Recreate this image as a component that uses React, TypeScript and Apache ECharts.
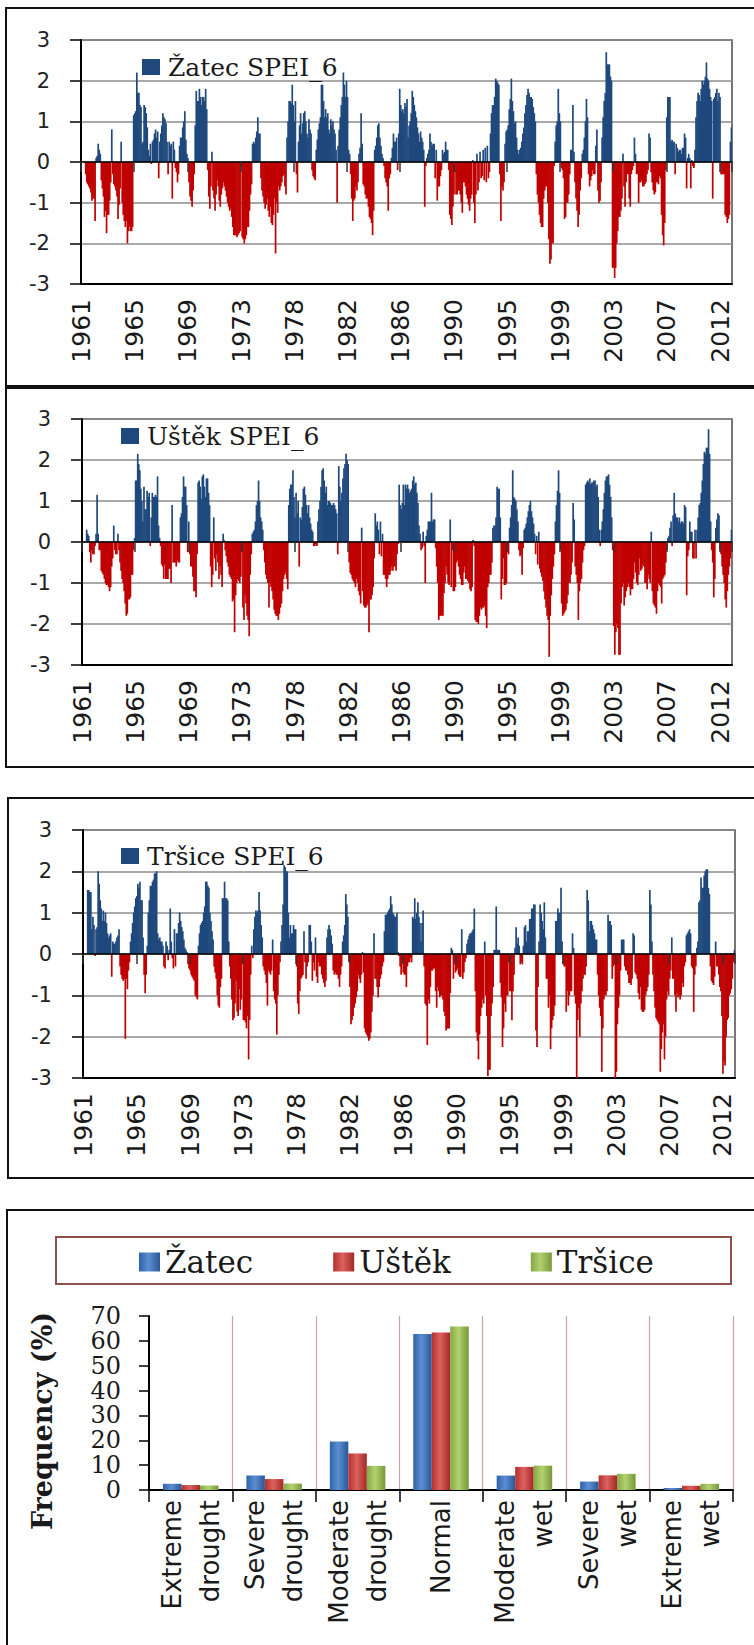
import React, { useEffect, useRef } from "react";
import * as echarts from "echarts";

const FIRST_YEAR = 1961;
const LAST_YEAR = 2012;
const LABEL_STEP = 51; // months between two year labels on the time axis

// Monthly SPEI-6 values, one row per year (Jan..Dec)
const zatecSpei6 = [
  null, null, null, null, -0.3, -0.5, -0.55, -0.6, -0.65, -0.75, -0.95, -0.9,
  -0.9, -1.45, 0.1, 0.15, 0.45, 0.3, 0.2, -0.45, -0.65, -0.85, -1.35, -1.2,
  -1.75, -1.3, -1.3, -0.95, -0.5, 0.8, -0.3, -0.55, -0.6, -0.7, -0.85, -1.4,
  -1.05, -0.65, 0.5, -1.0, -1.3, -1.45, -1.6, -1.45, -2.0, -1.7, -1.6, -1.7,
  -1.7, -1.6, 1.15, 1.2, 1.25, 2.2, 1.7, 1.7, 1.4, 1.35, 0.45, 0.5,
  1.4, 1.35, 1.2, 0.85, 0.3, 0.15, 0.45, -0.05, 0.5, 0.55, 0.7, 0.8,
  0.6, 0.75, -0.4, 0.5, 0.7, 0.9, 1.2, 1.1, 1.05, 0.95, 0.5, -0.3,
  0.5, 0.4, 0.45, -0.9, 0.5, 0.3, -0.15, -0.25, -0.5, -0.3, 0.4, 0.6,
  0.6, 0.85, 1.0, 1.25, 0.55, 0.2, 0.1, -0.5, -0.85, -0.95, -1.1, -0.7,
  -0.3, 0.9, 1.75, 1.5, 1.5, 1.8, 1.6, 1.4, 1.6, 1.6, 1.5, 1.8,
  1.3, -0.2, -0.85, -1.15, -0.6, 0.25, -0.7, -0.9, -1.2, -0.8, -0.45, -0.6,
  -0.95, -1.1, -0.8, -0.65, -0.5, -0.6, -0.7, -0.85, -1.0, -1.1, -1.2, -1.15,
  -1.35, -1.6, -1.8, -1.8, -1.8, -1.85, -1.8, -1.75, -1.7, -0.1, -1.85, -1.9,
  -2.0, -1.9, -1.8, -1.6, -1.6, -1.2, -0.8, -0.55, 0.45, 0.5, 0.45, 0.6,
  0.75, 1.1, 0.7, 0.7, -0.4, -0.7, -0.85, -1.0, -1.15, -1.05, -0.9, -1.2,
  -1.35, -1.1, -1.5, -1.55, -1.3, -0.9, -2.25, -1.0, -1.25, -0.6, -0.7, -0.6,
  -0.5, -0.35, -0.3, -0.6, -0.8, 0.6, 1.0, 1.5, 1.5, 1.45, 1.9, 1.4,
  1.0, 1.5, -0.3, -0.75, 0.5, 0.9, 1.2, 0.7, 0.95, 1.2, 1.25, 1.0,
  0.7, 0.6, 1.05, 0.8, 0.7, -0.2, -0.35, -0.4, -0.45, 0.3, 0.55, 0.8,
  0.95, 1.1, 1.9, 1.9, 1.5, 1.1, 1.3, 1.1, 1.2, 0.8, 0.7, 1.05,
  0.9, 1.0, 0.8, 0.7, 0.3, -1.0, 0.4, 0.8, 1.1, 1.4, 1.6, 2.2,
  1.9, 1.6, 2.0, 1.6, 0.3, 0.2, -0.3, -0.9, -1.45, -0.95, -0.9, -0.6,
  -0.7, -0.5, 0.2, 0.35, 1.2, 0.45, -0.55, -0.6, -0.8, -0.9, -0.9, -1.1,
  -1.35, -1.4, -1.5, -1.8, -1.2, 0.3, 0.4, 0.6, 0.9, 0.95, 0.6, 0.4,
  0.2, 0.1, -0.1, -0.4, -0.5, -0.6, -1.2, -0.4, -0.3, 0.1, 0.35, 0.7,
  0.5, 0.5, 0.6, -0.2, 0.7, 1.8, 1.4, 1.25, 1.3, 1.2, 1.45, 1.35,
  1.55, 0.6, 0.9, 1.0, 1.2, 1.75, 1.6, 1.4, 1.25, 1.1, 0.85, 0.7,
  0.5, 0.75, 0.6, 0.5, 0.3, -1.1, -0.1, 0.1, 0.2, 0.3, 0.7, 0.5,
  0.4, 0.45, 0.45, -0.4, 0.3, -0.95, -0.6, -0.6, -0.35, -0.2, 0.3, 0.2,
  0.25, 0.5, 0.3, 0.3, -0.2, -1.3, -1.4, -1.55, -1.1, -0.8, -0.25, -0.8,
  -0.8, -0.7, -0.7, -0.8, -1.0, -1.25, -0.5, -0.5, -0.6, -0.8, -0.9, -1.05,
  -1.2, -0.9, -0.8, 0.05, -1.0, -1.5, -0.8, 0.2, -0.7, -0.5, 0.25, -0.4,
  -0.35, 0.3, -0.45, 0.35, -0.5, 0.4, -0.4, -0.25, 0.7, 1.2, 1.4, 1.4,
  1.6, 2.05, 2.0, 1.95, 1.9, -0.3, -1.45, -0.6, -0.7, -0.5, 0.45, 0.75,
  0.8, 0.9, 1.3, 1.55, 2.05, 1.5, 1.25, 0.95, 1.0, 0.6, 0.3, 0.2,
  0.3, 0.35, 0.5, 0.7, 0.85, 1.2, 1.4, 1.65, 1.8, 1.7, 1.6, 1.6,
  1.55, 1.35, 1.2, 1.0, -0.3, -0.8, -1.0, -1.3, -1.5, -1.6, -1.6, -0.9,
  -0.7, -0.6, -0.6, -1.0, -1.9, -2.5, -2.4, -2.0, -2.0, -0.1, 0.5, 0.9,
  1.0, 1.8, 1.2, 1.0, -0.15, -0.2, -0.4, -1.4, -1.35, -1.0, -1.0, -0.8,
  -0.3, 0.3, 0.3, 1.4, 0.25, -0.5, -0.9, -1.2, -1.6, -1.3, -0.7, -0.4,
  0.2, 0.3, 0.6, 1.0, 1.55, 1.1, -0.3, -0.6, -0.45, -0.35, -0.2, -0.3,
  -0.3, 0.4, 0.8, -0.7, -1.0, -0.95, -0.5, 0.6, 1.1, 1.5, 1.7, 2.7,
  2.4, 2.4, 2.4, 2.1, 2.0, -2.6, -2.6, -2.85, -2.6, -2.0, -1.7, -1.35,
  -1.35, -1.2, -0.9, 0.2, -0.6, -1.1, -0.5, -0.3, -0.3, -0.9, -1.1, -0.3,
  -0.2, -0.1, 0.6, 0.2, -0.3, -0.3, -1.0, -0.5, -0.5, -0.45, -0.6, -0.6,
  -0.55, -0.5, -0.3, -0.2, 0.7, 0.6, -0.25, -0.5, -0.7, -0.8, -0.75, -0.5,
  -0.5, -0.55, -0.35, -0.4, -1.3, -1.8, -2.05, -1.5, -0.2, 1.1, 1.6, 1.6,
  1.6, 0.5, 0.55, 0.5, 0.5, -0.3, 0.45, 0.35, 0.25, 0.3, 0.3, 0.2,
  0.35, 0.35, 0.7, 0.6, -0.65, 0.1, 0.2, 0.1, -0.65, 0.05, -0.1, -0.15,
  0.3, 1.1, 1.5, 1.7, 1.65, 1.5, 1.8, 2.0, 1.9, 2.0, 2.1, 2.45,
  2.05, 2.0, 1.8, 1.6, 1.5, -0.9, 1.55, 1.6, 1.7, 1.8, 1.5, 1.7,
  1.6, -0.3, -0.3, -0.3, -0.3, -1.3, -1.35, -1.5, -1.4, -1.3, 0.5, 0.85,
];

const ustekSpei6 = [
  null, null, null, null, 0.3, 0.2, 0.15, -0.25, -0.5, -0.2, -0.3, -0.3,
  -0.1, 0.2, 1.15, 0.2, -0.2, -0.2, -0.7, -0.75, -0.8, -0.9, -1.0, -1.05,
  -1.05, -1.1, -1.2, -1.1, -0.6, -0.4, 0.4, -0.2, -0.3, -0.3, 0.2, -0.2,
  -0.5, -0.7, -0.9, -1.0, -1.2, -1.5, -1.8, -1.75, -1.4, -1.4, -1.35, -0.8,
  -0.8, -0.2, 0.1, 1.5, 1.5, 2.15, 1.9, 1.75, 1.3, 1.0, 0.5, 1.35,
  0.8, 0.8, 1.25, 1.1, 1.2, -0.1, 0.6, 1.2, 1.1, 1.1, 1.15, 1.1,
  1.6, 0.4, 0.1, -0.1, -0.55, -0.6, -0.9, -0.55, -0.9, -0.9, -0.9, -0.65,
  -0.65, -1.0, 0.9, -0.5, -0.5, -0.5, -0.6, -0.45, -0.5, -0.5, 0.6, 0.7,
  1.1, 1.6, 1.35, 1.35, 0.9, -0.25, 0.5, -0.3, -0.6, -0.6, -0.85, -1.2,
  -1.2, -1.35, -0.3, 1.45, 1.5, 1.35, 1.05, 1.6, 1.65, 1.35, 1.1, 1.55,
  1.55, 1.2, 0.9, -0.6, -1.1, -0.8, 0.6, -0.4, -0.7, -0.3, -0.5, -0.9,
  -0.6, -0.8, -1.1, 0.2, 0.05, -0.2, -0.35, -0.5, -0.6, -0.8, -0.85, -0.9,
  -1.45, -1.4, -2.2, -1.3, -1.0, -0.9, -0.95, -1.0, -0.85, -0.25, -1.6, -1.9,
  -1.3, -1.5, -1.8, -1.9, -2.3, -0.8, -0.3, 0.2, 0.25, 0.3, 0.5, 0.9,
  1.0, 1.5, 1.0, 0.6, 0.5, 0.3, -0.2, -0.5, -0.8, -0.9, -1.0, -1.6,
  -1.0, -1.1, -1.2, -1.4, -1.65, -1.75, -1.8, -1.8, -1.9, -1.75, -1.6, -1.5,
  -1.2, -0.9, -0.8, -0.75, -0.9, -1.15, 0.9, 1.3, 1.4, 1.4, 1.75, 1.1,
  0.6, 1.2, 0.7, 1.0, -0.6, 0.6, 0.55, 0.85, 1.3, 1.35, 1.15, 0.9,
  0.7, 0.9, 0.6, 0.45, 0.3, 0.25, -0.1, -0.1, -0.05, -0.1, 0.5, 0.8,
  1.0, 1.35, 1.75, 1.8, 1.5, 1.2, 1.35, 0.9, 1.0, 1.0, 0.95, 0.9,
  0.9, 0.95, 0.9, 0.8, 0.7, -0.3, 1.85, 1.35, 1.0, 1.2, 1.55, 1.8,
  1.9, 2.15, 2.0, 1.9, -0.5, -0.75, -0.8, -0.9, -0.95, -1.0, -1.1, -0.9,
  -1.0, -1.2, -1.3, -1.5, 0.35, -1.2, -1.55, -1.6, -1.6, -1.55, -1.5, -2.2,
  -1.4, -1.4, -1.3, -1.1, -0.4, 0.7, 0.4, 0.5, 0.3, -0.3, 0.5, -0.35,
  0.2, -0.8, -0.8, -0.9, -1.1, -0.9, -0.8, -0.8, -0.7, -0.6, -0.7, -0.6,
  -0.6, -0.7, -0.3, -0.05, 1.4, 0.9, 0.8, 0.95, 1.4, 0.9, 1.4, 1.3,
  1.4, 1.3, 1.2, 1.25, 1.3, 1.5, 1.6, 1.4, 1.45, 1.2, 0.95, 0.4,
  0.2, -0.2, -0.15, 0.25, -0.1, -1.0, 0.15, 0.3, 0.5, 0.5, 0.5, 1.2,
  0.5, 0.55, 0.55, -0.15, -0.6, -1.0, -1.9, -1.8, -1.8, -1.8, -1.8, -1.25,
  -1.0, -0.6, -0.8, -1.0, -1.05, 0.55, -1.1, -0.2, -1.2, -1.2, -1.1, -0.5,
  -0.45, -0.6, -0.8, -0.9, -1.05, -1.05, -0.75, -0.6, -0.9, -0.9, -0.95, -1.0,
  -1.15, -1.2, -1.1, 0.05, -0.1, -1.9, -1.95, -1.95, -2.0, -1.8, -1.6, -1.65,
  -1.6, -1.6, -1.55, -1.8, -2.1, -1.1, -1.0, -0.8, -0.8, -0.5, 0.35, 0.4,
  0.4, 0.6, 1.35, 1.3, 1.3, 0.6, -1.4, -0.9, -0.4, -1.05, -1.05, -1.0,
  -0.25, -0.3, 0.35, 0.6, 0.9, 1.75, 1.1, 1.05, 1.0, 0.8, 0.5, -0.2,
  -0.35, -0.3, -0.8, -0.15, 0.3, 0.35, 0.45, 0.6, 0.75, 0.9, 1.0, 0.75,
  0.6, 0.45, 0.2, -0.3, 0.15, -0.55, 0.25, -0.65, -0.75, -0.85, -0.95, -1.2,
  -1.4, -1.6, -1.8, -1.9, -2.8, -1.8, -1.3, -0.9, -0.6, -0.3, 0.5, 0.9,
  1.25, 1.75, 1.2, -0.2, -1.5, -1.8, -1.75, -1.7, -1.65, -1.5, -1.3, -1.0,
  -1.0, -0.8, -0.5, 0.95, 0.55, -0.6, -0.8, -1.0, -1.9, -1.2, -1.0, -0.9,
  -0.5, -0.2, -0.1, 1.4, 1.45, 1.5, 1.45, 1.55, 1.4, 1.45, 1.45, 1.5,
  1.5, 1.35, 1.4, 1.1, 0.3, -0.1, 0.3, 0.5, 0.8, 1.2, 1.5, 1.6,
  1.6, 1.65, 1.4, 1.1, 0.6, -0.2, -2.05, -2.75, -2.2, -2.0, -2.1, -2.75,
  -2.75, -1.5, -1.1, -1.0, -1.55, -1.35, -1.2, -1.1, -1.0, -1.1, -1.3, -1.15,
  -1.15, -0.9, -0.5, -0.75, -1.0, -1.05, -0.8, -0.4, -0.7, -0.65, -0.55, -0.6,
  -1.0, -1.0, -1.15, -0.8, -0.9, -1.0, 0.25, -1.2, -1.5, -1.55, -1.6, -1.75,
  -1.2, -1.0, -1.05, -1.1, -1.5, -0.9, -0.85, -0.8, -0.5, -0.2, 0.1, 0.15,
  0.35, 0.5, -0.1, 0.65, 1.2, 0.7, 0.6, 0.6, 0.5, 0.6, 0.45, 0.5,
  0.5, 0.45, 0.9, 0.85, -1.3, -0.35, -0.2, 0.5, 0.25, 0.25, -0.4, -0.4,
  0.3, -0.4, 0.3, 0.6, 0.9, 0.95, 1.2, 1.5, 1.9, 2.2, 2.15, 2.3,
  2.3, 2.75, 2.15, 0.5, -0.2, -0.5, -1.35, -0.9, 0.35, 0.55, 0.7, 0.65,
  -0.2, -0.3, -0.6, -0.8, -1.0, -1.4, -1.6, -1.2, -0.8, -0.6, -0.4, 0.3,
];

const trsiceSpei6 = [
  null, null, null, null, 1.55, 1.55, 1.5, 1.5, 0.6, 0.9, 0.7, -0.05,
  0.6, 0.65, 2.0, 1.7, 1.3, 1.1, 0.8, 1.05, 0.8, 1.0, 0.75, 0.5,
  0.4, 0.45, 0.5, -0.55, 0.3, 0.25, 0.25, 0.3, 0.4, 0.45, 0.6, -0.3,
  -0.5, -0.6, -0.65, -0.6, -2.05, -0.6, -0.85, -0.4, -0.2, 0.3, 0.5, 0.75,
  1.0, 1.15, 1.35, 1.4, 1.7, 1.6, 1.75, 1.3, 1.3, 0.4, -0.5, -0.95,
  -0.5, 0.2, 1.0, 1.3, 1.65, 1.65, 1.75, 1.8, 1.95, 1.95, 2.0, 0.5,
  0.35, 0.4, 0.3, 0.3, 0.2, -0.3, -0.35, 0.3, 0.2, -0.15, 0.1, 1.1,
  0.3, -0.1, -0.35, 0.6, -0.3, 0.5, 0.5, 0.75, 1.0, 0.8, 0.65, 0.55,
  0.35, 0.15, 0.1, 0.05, -0.25, -0.35, -0.4, -0.5, -0.55, -0.6, -0.65, -1.0,
  -1.05, -1.1, 0.2, 0.5, 0.7, 0.75, 0.8, 1.0, 1.15, 1.75, 1.75, 1.65,
  1.6, 1.0, 0.8, 0.55, 0.35, -0.3, -0.45, -0.6, -1.0, -1.25, -1.3, -0.8,
  -0.6, 1.35, 1.35, 1.75, 1.35, 1.35, 1.3, 0.3, -0.3, -0.6, -1.1, -1.6,
  -1.55, -1.2, -0.65, -1.4, -1.5, -0.85, -1.35, -1.1, -0.25, -1.6, -1.6, -1.65,
  -1.8, -1.5, -2.55, -1.6, -0.5, 0.2, -0.1, 0.6, 0.9, 1.05, 1.0, 1.05,
  1.5, 1.05, 0.7, 0.4, -0.3, -0.4, -0.5, -0.7, -1.25, -0.4, -0.45, -0.5,
  -0.4, 0.35, -0.9, -1.1, -1.2, -1.95, -1.0, -0.5, -0.2, 0.3, 0.7, 1.2,
  2.15, 2.1, 2.0, 2.0, 1.0, 0.4, 0.7, 0.5, 0.5, 0.7, 0.6, 0.6,
  -0.3, -1.2, -1.45, -0.9, -0.6, -0.55, -0.5, 0.55, -0.2, -0.6, -0.3, -0.2,
  0.7, 0.7, 0.3, -0.65, -0.2, -0.4, 0.4, -0.55, -0.7, -0.2, -0.3, -0.3,
  -0.5, -0.6, -0.7, -0.8, -0.65, 0.4, 0.6, 0.7, 0.6, 0.45, 0.25, -0.4,
  -0.5, -0.45, -0.5, -0.5, -0.6, -0.8, -0.5, -0.3, 0.3, 0.45, 0.7, 1.45,
  1.2, 0.9, -0.2, -0.8, -1.7, -1.6, -1.5, -1.3, -1.2, -1.05, -0.9, -0.5,
  -0.6, -0.7, -0.5, 0.05, -0.45, -1.8, -1.9, -1.95, -2.0, -2.1, -2.05, -1.9,
  -1.4, -1.0, 0.5, -0.6, -0.6, -0.8, -1.05, -0.8, -0.6, -0.5, -0.3, -0.2,
  0.55, 0.95, 0.95, 1.0, 1.05, 1.1, 1.4, 1.2, 1.0, 0.95, 0.9, 0.9,
  1.0, 0.05, -0.05, -0.3, -0.5, -0.2, -0.45, -0.5, -0.5, -0.8, -0.3, -0.2,
  -0.2, -0.1, -0.2, 0.9, 0.85, 1.35, 0.85, 1.0, 1.25, 0.9, 0.75, 0.3,
  0.75, 1.05, -0.3, -1.2, -1.25, -2.2, -1.1, -1.2, -0.8, -0.4, -0.4, -0.35,
  -0.35, -0.9, -1.3, -0.8, -0.9, -1.05, -1.0, -1.0, -1.1, -1.4, -1.5, -1.85,
  -1.8, -1.8, -1.8, -0.95, 0.15, 0.1, -0.6, -0.25, -0.45, -0.4, -0.35, -0.5,
  -0.55, -0.55, 0.6, -0.6, -0.45, -0.2, -0.1, 0.25, 0.35, 0.45, 0.5, 0.5,
  0.55, 0.6, 1.1, -0.9, -1.9, -2.1, -2.55, -1.95, -1.5, -1.3, -1.1, -1.2,
  0.3, -1.0, -1.5, -2.95, -2.8, -2.8, -1.5, -1.2, -0.8, 0.1, 0.1, 1.15,
  0.1, 0.1, 0.1, -0.7, -1.05, -2.25, -1.8, -1.2, -1.4, -1.0, -1.0, -0.2,
  -0.9, -0.9, -1.6, -0.9, -0.5, 0.15, 0.65, 0.25, 0.4, 0.2, -0.25, -0.2,
  -0.25, 0.2, 0.65, 0.7, 0.3, 0.55, 0.55, 0.85, 0.85, 1.1, 1.1, 1.2,
  1.2, -1.85, -2.25, -0.8, 0.3, 1.2, 1.0, 0.8, 0.6, 1.25, 0.4, -0.6,
  -0.6, -1.3, -1.0, -2.3, -1.8, -1.6, -1.5, -1.25, 0.8, 0.8, 1.1, 1.0,
  1.0, 1.6, 0.3, -0.25, -0.3, -0.3, -1.4, -0.9, -1.25, -1.0, -0.9, -0.9,
  0.5, 0.15, -1.0, -1.2, -3.0, -1.6, -1.3, -2.0, -1.2, -0.9, -0.6, -0.5,
  -0.5, -0.3, 1.55, 1.3, 0.55, 0.8, 0.8, 0.7, 0.6, 0.5, 0.35, 0.35,
  -0.5, -1.0, -1.3, -1.5, -2.85, -1.8, -1.1, -1.0, -1.0, -0.9, 0.95, 0.8,
  0.8, 0.7, -0.6, -0.3, -0.25, -3.0, -2.85, -1.7, -1.3, -1.0, -0.4, 0.35,
  0.35, 0.35, -0.3, -0.4, -0.4, -0.5, -0.7, -0.7, -0.75, -0.6, 0.5, 0.45,
  -0.45, -0.5, -0.6, -0.95, -1.1, -0.8, -1.35, -1.4, -1.4, -1.35, -1.0, -0.9,
  -0.8, -0.5, 1.55, 1.2, 0.3, -0.5, -0.9, -1.3, -1.55, -1.6, -1.65, -1.7,
  -2.85, -2.3, -1.9, -1.7, -2.55, -2.0, -1.1, -0.9, -1.0, -0.6, -0.4, 0.4,
  -0.6, -0.6, -1.0, -1.4, -0.95, -1.05, -1.0, -1.1, -1.0, -0.7, -0.8, -0.3,
  -0.2, 0.45, 0.5, 0.55, 0.6, 0.5, -0.3, -0.35, -1.4, -0.5, -0.3, 0.15,
  0.3, 1.25, 1.3, 1.85, 1.6, 1.6, 1.9, 2.0, 2.05, 2.05, 1.6, 1.45,
  -0.3, -0.65, -0.7, -0.75, -0.55, 0.3, -0.3, -0.3, -0.5, -0.8, -0.9, -1.5,
  -2.9, -2.6, -2.7, -2.0, -1.6, -1.55, -1.0, -0.95, -0.85, -0.6, -0.2, 0.1,
];

// Frequency of SPEI-6 classes (%)
const droughtClasses = [
  "Extreme\ndrought",
  "Severe\ndrought",
  "Moderate\ndrought",
  "Normal",
  "Moderate\nwet",
  "Severe\nwet",
  "Extreme\nwet",
];
const freqZatec = [2.5, 5.8, 19.5, 62.8, 5.8, 3.4, 0.8];
const freqUstek = [2.0, 4.4, 14.7, 63.4, 9.3, 5.9, 1.7];
const freqTrsice = [1.8, 2.6, 9.7, 65.8, 9.8, 6.5, 2.5];

const BLUE = "#1F497D";
const RED = "#C00000";

function grad(a: string, b: string, c: string) {
  return {
    type: "linear",
    x: 0,
    y: 0,
    x2: 1,
    y2: 0,
    colorStops: [
      { offset: 0, color: a },
      { offset: 0.45, color: b },
      { offset: 1, color: c },
    ],
  };
}

export default function App() {
  const ref = useRef<HTMLDivElement>(null);

  useEffect(() => {
    if (!ref.current) return;
    const chart = echarts.init(ref.current, null, { renderer: "svg" });

    const months: string[] = [];
    for (let y = FIRST_YEAR; y <= LAST_YEAR; y++) {
      for (let m = 1; m <= 12; m++) months.push(`${y}-${String(m).padStart(2, "0")}`);
    }

    const panels = [
      { name: "Žatec SPEI_6", values: zatecSpei6, grid: { left: 81, top: 40, width: 651, height: 244 }, legendTop: 54, legendLeft: 142 },
      { name: "Uštěk SPEI_6", values: ustekSpei6, grid: { left: 82, top: 419, width: 650, height: 246 }, legendTop: 423, legendLeft: 121 },
      { name: "Tršice SPEI_6", values: trsiceSpei6, grid: { left: 83, top: 830, width: 652, height: 248 }, legendTop: 843, legendLeft: 121 },
    ];

    const grids: any[] = [];
    const xAxes: any[] = [];
    const yAxes: any[] = [];
    const series: any[] = [];
    const legends: any[] = [];

    panels.forEach((p, i) => {
      grids.push({
        ...p.grid,
        containLabel: false,
        outerBoundsMode: "none",
        show: true,
        borderColor: "#4a4a4a",
        borderWidth: 1.5,
      });
      // axis at zero: line + ticks
      xAxes.push({
        type: "category",
        gridIndex: i,
        data: months,
        position: "bottom",
        z: 5,
        axisLine: { onZero: true, lineStyle: { color: "#000", width: 1.5 } },
        axisTick: { show: true, interval: LABEL_STEP - 1, length: 10, lineStyle: { color: "#333", width: 1.5 } },
        axisLabel: { show: false },
        splitLine: { show: false },
      });
      // bottom axis with year labels
      xAxes.push({
        type: "category",
        gridIndex: i,
        data: months,
        position: "bottom",
        axisLine: { onZero: false, lineStyle: { color: "#000", width: 2 } },
        axisTick: { show: false },
        axisLabel: {
          interval: LABEL_STEP - 1,
          rotate: 90,
          margin: 15,
          formatter: (v: string) => v.slice(0, 4),
          fontFamily: "DejaVu Sans",
          fontSize: 25,
          color: "#1a1a1a",
        },
        splitLine: { show: false },
      });
      yAxes.push({
        type: "value",
        gridIndex: i,
        min: -3,
        max: 3,
        interval: 1,
        axisLine: { show: true, lineStyle: { color: "#000", width: 2 } },
        axisTick: { show: true, length: 11, lineStyle: { color: "#000", width: 1.5 } },
        axisLabel: { margin: 31, fontFamily: "DejaVu Sans", fontSize: 21, color: "#222" },
        splitLine: { show: true, lineStyle: { color: "#8c8c8c", width: 1.5 } },
      });
      series.push({
        name: p.name,
        type: "bar",
        xAxisIndex: i * 2,
        yAxisIndex: i,
        barWidth: 1.7,
        itemStyle: { color: BLUE },
        data: p.values.map((v) =>
          v === null ? null : { value: v, itemStyle: { color: v >= 0 ? BLUE : RED } }
        ),
      });
      legends.push({
        data: [p.name],
        left: p.legendLeft,
        top: p.legendTop,
        padding: 0,
        itemWidth: 18,
        itemHeight: 16,
        icon: "rect",
        textStyle: { fontFamily: "DejaVu Serif", fontSize: 25, lineHeight: 26, color: "#1a1a1a", padding: [0, 0, 0, 3] },
      });
    });

    // Frequency bar chart
    const gi = grids.length;
    grids.push({ left: 149, top: 1316, width: 584, height: 174, containLabel: false, outerBoundsMode: "none" });
    xAxes.push({
      type: "category",
      gridIndex: gi,
      data: droughtClasses,
      axisLine: { lineStyle: { color: "#000", width: 2 } },
      axisTick: { show: true, interval: 0, length: 12, lineStyle: { color: "#000", width: 1.5 } },
      splitLine: { show: true, interval: 0, lineStyle: { color: "#C9A6A6", width: 1.2 } },
      axisLabel: {
        interval: 0,
        rotate: 90,
        margin: 10,
        fontFamily: "DejaVu Sans",
        fontSize: 26,
        lineHeight: 38,
        color: "#1a1a1a",
      },
    });
    const xi = xAxes.length - 1;
    yAxes.push({
      type: "value",
      gridIndex: gi,
      min: 0,
      max: 70,
      interval: 10,
      axisLine: { show: true, lineStyle: { color: "#000", width: 2 } },
      axisTick: { show: true, length: 10, lineStyle: { color: "#000", width: 1.5 } },
      axisLabel: { margin: 28, fontFamily: "DejaVu Serif", fontSize: 24, color: "#1a1a1a" },
      splitLine: { show: false },
    });
    const yi = yAxes.length - 1;
    const freqSeries = [
      { name: "Žatec", values: freqZatec, color: grad("#2F62A8", "#5B8FD2", "#2A5796") },
      { name: "Uštěk", values: freqUstek, color: grad("#B3302D", "#DC625F", "#A32826") },
      { name: "Tršice", values: freqTrsice, color: grad("#84A844", "#B3D26F", "#76973A") },
    ];
    freqSeries.forEach((s) => {
      series.push({
        name: s.name,
        type: "bar",
        xAxisIndex: xi,
        yAxisIndex: yi,
        barWidth: 18.5,
        barGap: "0%",
        itemStyle: { color: s.color },
        data: s.values,
      });
    });
    legends.push({
      data: freqSeries.map((s) => s.name),
      left: 139,
      top: 1244,
      padding: 0,
      itemWidth: 21,
      itemHeight: 19,
      itemGap: 80,
      icon: "rect",
      textStyle: { fontFamily: "DejaVu Serif", fontSize: 31, lineHeight: 36, color: "#1a1a1a" },
    });

    const frame = (x: number, y: number, w: number, h: number, color = "#111") => ({
      type: "rect",
      silent: true,
      shape: { x, y, width: w, height: h },
      style: { fill: "none", stroke: color, lineWidth: 2 },
    });

    chart.setOption({
      animation: false,
      backgroundColor: "#fff",
      grid: grids,
      xAxis: xAxes,
      yAxis: yAxes,
      legend: legends,
      series,
      graphic: [
        frame(6, 8, 800, 378),
        frame(6, 388, 800, 379),
        frame(8, 798, 800, 380),
        frame(7, 1210, 800, 500),
        frame(56, 1237, 675, 47, "#8E4F4F"),
        {
          type: "text",
          x: 42,
          y: 1421,
          rotation: Math.PI / 2,
          silent: true,
          style: {
            text: "Frequency (%)",
            font: 'bold 27px "DejaVu Serif"',
            fill: "#1a1a1a",
            align: "center",
            verticalAlign: "middle",
          },
        },
      ],
    });

    return () => chart.dispose();
  }, []);

  return (
    <div
      ref={ref}
      style={{ position: "absolute", left: 0, top: 0, width: 754, height: 1645, background: "#fff" }}
    />
  );
}
